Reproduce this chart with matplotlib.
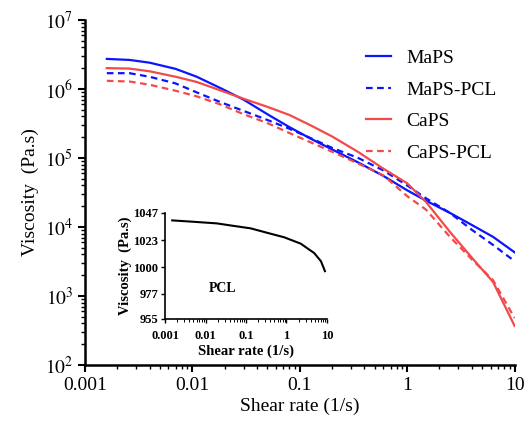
import numpy as np
import matplotlib
matplotlib.use("Agg")
import matplotlib.pyplot as plt
from matplotlib.ticker import LogLocator, FixedLocator, NullFormatter, FuncFormatter

plt.rcParams['font.family'] = ['Liberation Serif', 'DejaVu Serif']
plt.rcParams['mathtext.fontset'] = 'stix'

# shear rate (1/s), common grid
shear = [0.0016, 0.0026, 0.004, 0.007, 0.011, 0.018, 0.03, 0.05, 0.08, 0.13,
         0.2, 0.35, 0.6, 1.0, 1.5, 2.5, 4.0, 6.3, 10.0]

# viscosity (Pa.s)
maps = [2.72e6, 2.63e6, 2.4e6, 1.95e6, 1.5e6, 1.04e6, 7.0e5, 4.3e5, 2.8e5, 1.86e5,
        1.33e5, 8.6e4, 5.5e4, 3.4e4, 2.4e4, 1.6e4, 1.07e4, 7.2e3, 4.3e3]
maps_pcl = [1.69e6, 1.69e6, 1.5e6, 1.2e6, 8.9e5, 6.5e5, 4.8e5, 3.55e5, 2.65e5, 1.9e5,
            1.4e5, 1.0e5, 6.6e4, 4.0e4, 2.6e4, 1.6e4, 9.1e3, 5.5e3, 3.2e3]
caps = [2.0e6, 1.97e6, 1.8e6, 1.5e6, 1.26e6, 9.6e5, 7.2e5, 5.5e5, 4.2e5, 2.9e5,
        2.05e5, 1.22e5, 7.0e4, 4.3e4, 2.3e4, 8.5e3, 3.6e3, 1.6e3, 3.7e2]
caps_pcl = [1.31e6, 1.28e6, 1.15e6, 9.4e5, 7.8e5, 6.0e5, 4.3e5, 3.2e5, 2.3e5, 1.65e5,
            1.23e5, 8.3e4, 5.6e4, 2.8e4, 1.78e4, 7.2e3, 3.4e3, 1.7e3, 4.8e2]

# inset: PCL alone
pcl_shear = [0.0015, 0.005, 0.019, 0.05, 0.13, 0.4, 0.87, 1.5, 2.26, 3.5, 4.83,
             6.0, 7.1, 8.0, 8.9]
pcl_visc = [1040.4, 1039.2, 1037.8, 1035.6, 1033.5, 1028.9, 1025.8, 1022.6,
            1020.2, 1015.5, 1012.1, 1008.1, 1005.0, 1000.5, 996.4]
pcl_ticks = [955, 977, 1000, 1023, 1047]

BLUE = '#0a14ff'
RED = '#f24a4a'

fig = plt.figure(figsize=(5.24, 4.23), dpi=100)
ax = fig.add_axes([0.162, 0.137, 0.820, 0.816])

ax.plot(shear, maps, color=BLUE, lw=1.6, label='MaPS')
ax.plot(shear, maps_pcl, color=BLUE, lw=1.6, ls=(0, (3, 2)), label='MaPS-PCL')
ax.plot(shear, caps, color=RED, lw=1.6, label='CaPS')
ax.plot(shear, caps_pcl, color=RED, lw=1.6, ls=(0, (3, 2)), label='CaPS-PCL')

ax.set_xscale('log')
ax.set_yscale('log')
ax.set_xlim(0.001, 10)
ax.set_ylim(1e2, 1e7)

for s in ['top', 'right']:
    ax.spines[s].set_visible(False)
for s in ['left', 'bottom']:
    ax.spines[s].set_linewidth(1.8)

ax.xaxis.set_major_formatter(FuncFormatter(lambda v, p: ('%g' % v)))
ax.yaxis.set_major_formatter(FuncFormatter(lambda v, p: r'$10^{%d}$' % round(np.log10(v))))
ax.yaxis.set_minor_locator(LogLocator(base=10, subs=np.arange(2, 10)))
ax.xaxis.set_minor_locator(LogLocator(base=10, subs=np.arange(2, 10)))
ax.xaxis.set_minor_formatter(NullFormatter())
ax.yaxis.set_minor_formatter(NullFormatter())
ax.tick_params(which='major', direction='out', length=5, width=1.5, labelsize=14)
ax.tick_params(which='minor', direction='out', length=3, width=1.0)

ax.set_xlabel('Shear rate (1/s)', fontsize=14, labelpad=3)
ax.set_ylabel('Viscosity  (Pa.s)', fontsize=14)

leg = ax.legend(loc='upper right', bbox_to_anchor=(1.0, 0.965), frameon=False,
                fontsize=14, handlelength=1.3, handletextpad=0.8, labelspacing=0.72)

# inset
ins = fig.add_axes([0.315, 0.246, 0.309, 0.251])
ins.plot(pcl_shear, pcl_visc, color='black', lw=1.5)
ins.set_xscale('log')
ins.set_xlim(0.001, 10)
ins.set_ylim(955, 1047)
ins.yaxis.set_major_locator(FixedLocator(pcl_ticks))
ins.xaxis.set_major_formatter(FuncFormatter(lambda v, p: ('%g' % v)))
ins.xaxis.set_minor_locator(LogLocator(base=10, subs=np.arange(2, 10)))
ins.xaxis.set_minor_formatter(NullFormatter())
for s in ['top', 'right']:
    ins.spines[s].set_visible(False)
for s in ['left', 'bottom']:
    ins.spines[s].set_linewidth(1.2)
ins.tick_params(which='major', direction='out', length=3, width=1.0, labelsize=9)
ins.tick_params(axis='x', which='major', pad=5)
ins.tick_params(axis='y', which='major', pad=2)
ins.tick_params(which='minor', direction='out', length=2, width=0.7)
for lab in ins.get_xticklabels() + ins.get_yticklabels():
    lab.set_fontweight('bold')
ins.set_xlabel('Shear rate (1/s)', fontsize=10.5, fontweight='bold', labelpad=2)
ins.set_ylabel('Viscosity  (Pa.s)', fontsize=10.5, fontweight='bold', labelpad=1)
ins.text(0.0123, 981, 'PCL', fontsize=10, fontweight='bold', va='center')
ins.patch.set_alpha(0)

fig.savefig('out.png', dpi=100)
